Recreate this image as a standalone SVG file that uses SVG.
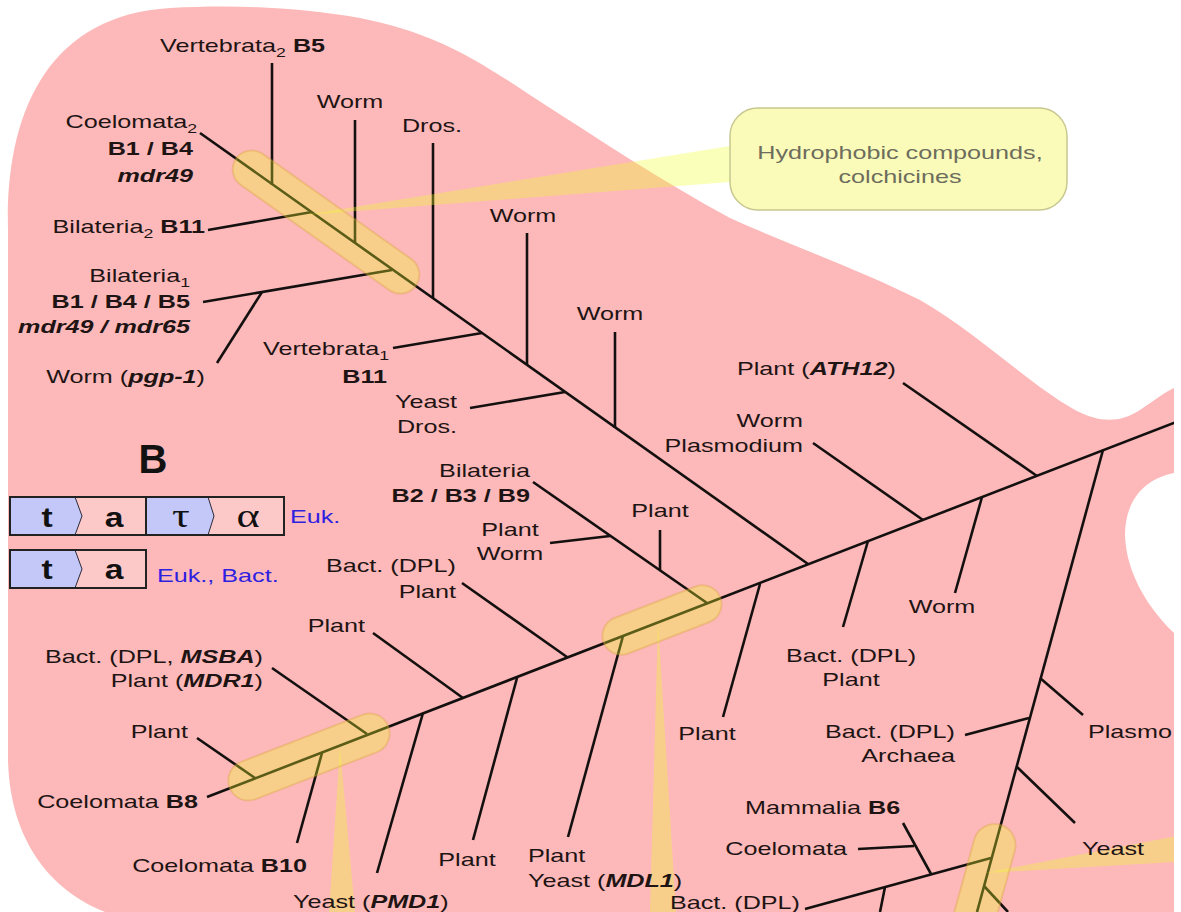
<svg xmlns="http://www.w3.org/2000/svg" width="1181" height="912" viewBox="0 0 1181 912">
<defs>
<clipPath id="clip"><rect x="0" y="0" width="1174" height="912"/></clipPath>
<style>
.lbl{font-family:"Liberation Sans",Arial,Helvetica,sans-serif;font-size:18.5px;fill:#1e1414}
.b{font-weight:bold}
.bi{font-weight:bold;font-style:italic}
.sub{font-size:13px}
#connectors line{stroke:#141010;stroke-width:2.6}
.hl{fill:#f0ff28;fill-opacity:0.32;stroke:#d9a040;stroke-opacity:0.35;stroke-width:2}
.wedge{fill:#f0ff28;fill-opacity:0.32}
.blue{fill:#c4c8f8}
.gl{font-family:"Liberation Sans",Arial,sans-serif;font-weight:bold;font-size:28px;fill:#111}
.gg{font-family:"Liberation Serif","Times New Roman",serif;font-size:34px;fill:#111}
.euk{font-family:"Liberation Sans",Arial,sans-serif;font-size:18.5px;fill:#2f1fe0}
.co{font-family:"Liberation Sans",Arial,sans-serif;font-size:18.5px;fill:#6d6d5d}
</style>
</defs>
<rect width="1181" height="912" fill="#ffffff"/>
<g clip-path="url(#clip)">
<path id="blob" fill="#fdb9b9" d="M 8,230 C 5,110 50,15 170,8 C 240,4 300,8 360,18 C 430,32 470,55 530,95 C 600,140 660,180 730,218 C 790,245 860,270 920,300 C 980,335 1030,385 1075,410 C 1100,423 1120,423 1140,410 C 1155,400 1165,392 1174,388 L 1174,473 C 1140,480 1125,505 1125,535 C 1126,570 1145,605 1174,633 L 1174,912 L 105,912 C 50,890 10,840 8,760 Z"/>

<g id="connectors">
<line x1="200" y1="133" x2="808" y2="564"/>
<line x1="207" y1="797" x2="1176" y2="422"/>
<line x1="1103" y1="450" x2="977" y2="912"/>
<line x1="991" y1="858" x2="805" y2="909"/>
<line x1="272" y1="63" x2="272" y2="185"/>
<line x1="355" y1="120" x2="355" y2="243"/>
<line x1="433" y1="143" x2="433" y2="298"/>
<line x1="208" y1="230" x2="312" y2="212"/>
<line x1="203" y1="302" x2="392" y2="270"/>
<line x1="217" y1="363" x2="262" y2="292"/>
<line x1="393" y1="348" x2="482" y2="333"/>
<line x1="527" y1="233" x2="527" y2="365"/>
<line x1="470" y1="408" x2="565" y2="392"/>
<line x1="615" y1="332" x2="615" y2="428"/>
<line x1="813" y1="443" x2="923" y2="520"/>
<line x1="903" y1="383" x2="1037" y2="476"/>
<line x1="533" y1="482" x2="707" y2="603"/>
<line x1="550" y1="543" x2="610" y2="536"/>
<line x1="660" y1="530" x2="660" y2="570"/>
<line x1="462" y1="583" x2="567" y2="657"/>
<line x1="373" y1="633" x2="463" y2="698"/>
<line x1="272" y1="668" x2="367" y2="734"/>
<line x1="197" y1="738" x2="255" y2="778"/>
<line x1="297" y1="843" x2="322" y2="753"/>
<line x1="377" y1="873" x2="423" y2="713"/>
<line x1="473" y1="840" x2="517" y2="678"/>
<line x1="568" y1="837" x2="623" y2="636"/>
<line x1="723" y1="717" x2="760" y2="584"/>
<line x1="843" y1="627" x2="868" y2="541"/>
<line x1="955" y1="593" x2="982" y2="497"/>
<line x1="1040" y1="678" x2="1083" y2="715"/>
<line x1="965" y1="735" x2="1029" y2="718"/>
<line x1="1017" y1="767" x2="1075" y2="823"/>
<line x1="858" y1="849" x2="914" y2="846"/>
<line x1="903" y1="823" x2="931" y2="874"/>
<line x1="885" y1="887" x2="880" y2="912"/>
<line x1="984" y1="886" x2="1008" y2="912"/>
</g>

<g id="highlights">
<polygon class="wedge" points="305,215 730,146 730,182"/>
<polygon class="wedge" points="340,748 329,912 355,912"/>
<polygon class="wedge" points="658,622 650,912 676,912"/>
<polygon class="wedge" points="985,873 1176,836 1176,862"/>
<rect class="hl" x="216" y="203" width="220" height="38" rx="19" transform="rotate(35.3 326 222)"/>
<rect class="hl" x="224" y="737" width="170" height="40" rx="20" transform="rotate(-21.2 309 757)"/>
<rect class="hl" x="599.5" y="601" width="125" height="38" rx="19" transform="rotate(-21.2 662 620)"/>
<rect class="hl" x="958.4" y="822" width="42" height="170" rx="21" transform="rotate(15.4 979.4 900)"/>
</g>

<g id="callout">
<rect x="730" y="108" width="337" height="102" rx="28" fill="#fbfbb9" stroke="#c8c890" stroke-width="1.5"/>
<text class="co" text-anchor="middle" transform="translate(900,159) scale(1.36 1)">Hydrophobic compounds,</text>
<text class="co" text-anchor="middle" transform="translate(900,183) scale(1.36 1)">colchicines</text>
</g>

<g id="legend">
<text x="153" y="473" text-anchor="middle" style="font-family:'Liberation Sans',Arial,sans-serif;font-weight:bold;font-size:40px;fill:#111">B</text>
<g id="gene-euk">
<rect x="10" y="497" width="274" height="38" fill="#fcc8c8"/>
<polygon class="blue" points="10,497 75,497 82,516 75,535 10,535"/>
<polygon class="blue" points="146,497 208,497 214,516 208,535 146,535"/>
<polyline points="75,497 82,516 75,535" fill="none" stroke="#2a2a3a" stroke-width="1"/>
<polyline points="208,497 214,516 208,535" fill="none" stroke="#2a2a3a" stroke-width="1"/>
<line x1="146" y1="497" x2="146" y2="535" stroke="#222" stroke-width="2"/>
<rect x="10" y="497" width="274" height="38" fill="none" stroke="#222" stroke-width="2"/>
<text class="gl" text-anchor="middle" transform="translate(47,527) scale(1.2 1)">t</text>
<text class="gl" text-anchor="middle" transform="translate(114,527) scale(1.2 1)">a</text>
<text class="gg" text-anchor="middle" transform="translate(181,527) scale(1.3 1)">τ</text>
<text class="gg" text-anchor="middle" transform="translate(248,527) scale(1.3 1)">α</text>
<text class="euk" transform="translate(290,523) scale(1.36 1)">Euk.</text>
</g>
<g id="gene-bact">
<rect x="10" y="550" width="136" height="38" fill="#fcc8c8"/>
<polygon class="blue" points="10,550 75,550 82,569 75,588 10,588"/>
<polyline points="75,550 82,569 75,588" fill="none" stroke="#2a2a3a" stroke-width="1"/>
<rect x="10" y="550" width="136" height="38" fill="none" stroke="#222" stroke-width="2"/>
<text class="gl" text-anchor="middle" transform="translate(47,579) scale(1.2 1)">t</text>
<text class="gl" text-anchor="middle" transform="translate(114,579) scale(1.2 1)">a</text>
<text class="euk" transform="translate(157,582) scale(1.36 1)">Euk., Bact.</text>
</g>
</g>

<g id="n-vertebrata2"><text class="lbl" transform="translate(160,52) scale(1.36 1)">Vertebrata<tspan class="sub" dy="5">2</tspan><tspan class="b" dy="-5"> B5</tspan></text></g>
<g id="n-worm-a"><text class="lbl" text-anchor="middle" transform="translate(350,108) scale(1.36 1)">Worm</text></g>
<g id="n-coelomata2">
<text class="lbl" text-anchor="end" transform="translate(197,128) scale(1.36 1)">Coelomata<tspan class="sub" dy="5">2</tspan></text>
<text class="lbl b" text-anchor="end" transform="translate(193,155) scale(1.36 1)">B1 / B4</text>
<text class="lbl bi" text-anchor="end" transform="translate(193,182) scale(1.36 1)">mdr49</text>
</g>
<g id="n-bilateria2"><text class="lbl" text-anchor="end" transform="translate(205,233) scale(1.36 1)">Bilateria<tspan class="sub" dy="5">2</tspan><tspan class="b" dy="-5"> B11</tspan></text></g>
<g id="n-bilateria1">
<text class="lbl" text-anchor="end" transform="translate(190,282) scale(1.36 1)">Bilateria<tspan class="sub" dy="5">1</tspan></text>
<text class="lbl b" text-anchor="end" transform="translate(190,308) scale(1.36 1)">B1 / B4 / B5</text>
<text class="lbl bi" text-anchor="end" transform="translate(190,333) scale(1.36 1)">mdr49 / mdr65</text>
</g>
<g id="n-worm-pgp1"><text class="lbl" text-anchor="end" transform="translate(205,383) scale(1.36 1)">Worm (<tspan class="bi">pgp-1</tspan>)</text></g>
<g id="n-dros-a"><text class="lbl" text-anchor="middle" transform="translate(432,132) scale(1.36 1)">Dros.</text></g>
<g id="n-worm-b"><text class="lbl" text-anchor="middle" transform="translate(523,222) scale(1.36 1)">Worm</text></g>
<g id="n-vertebrata1">
<text class="lbl" text-anchor="end" transform="translate(389,355) scale(1.36 1)">Vertebrata<tspan class="sub" dy="5">1</tspan></text>
<text class="lbl b" text-anchor="end" transform="translate(387,383) scale(1.36 1)">B11</text>
</g>
<g id="n-yeast-dros">
<text class="lbl" text-anchor="end" transform="translate(457,408) scale(1.36 1)">Yeast</text>
<text class="lbl" text-anchor="end" transform="translate(457,433) scale(1.36 1)">Dros.</text>
</g>
<g id="n-worm-c"><text class="lbl" text-anchor="middle" transform="translate(610,320) scale(1.36 1)">Worm</text></g>
<g id="n-plant-ath12"><text class="lbl" transform="translate(737,375) scale(1.36 1)">Plant (<tspan class="bi">ATH12</tspan>)</text></g>
<g id="n-worm-plasmodium">
<text class="lbl" text-anchor="end" transform="translate(803,427) scale(1.36 1)">Worm</text>
<text class="lbl" text-anchor="end" transform="translate(803,452) scale(1.36 1)">Plasmodium</text>
</g>
<g id="n-bilateria-b2">
<text class="lbl" text-anchor="end" transform="translate(530,477) scale(1.36 1)">Bilateria</text>
<text class="lbl b" text-anchor="end" transform="translate(530,502) scale(1.36 1)">B2 / B3 / B9</text>
</g>
<g id="n-plant-worm">
<text class="lbl" text-anchor="middle" transform="translate(510,536) scale(1.36 1)">Plant</text>
<text class="lbl" text-anchor="middle" transform="translate(510,560) scale(1.36 1)">Worm</text>
</g>
<g id="n-plant-a"><text class="lbl" text-anchor="middle" transform="translate(660,517) scale(1.36 1)">Plant</text></g>
<g id="n-bact-plant-a">
<text class="lbl" text-anchor="end" transform="translate(456,572) scale(1.36 1)">Bact. (DPL)</text>
<text class="lbl" text-anchor="end" transform="translate(456,598) scale(1.36 1)">Plant</text>
</g>
<g id="n-plant-b"><text class="lbl" text-anchor="end" transform="translate(365,632) scale(1.36 1)">Plant</text></g>
<g id="n-msba-mdr1">
<text class="lbl" text-anchor="end" transform="translate(263,663) scale(1.36 1)">Bact. (DPL, <tspan class="bi">MSBA</tspan>)</text>
<text class="lbl" text-anchor="end" transform="translate(263,687) scale(1.36 1)">Plant (<tspan class="bi">MDR1</tspan>)</text>
</g>
<g id="n-plant-c"><text class="lbl" text-anchor="end" transform="translate(188,738) scale(1.36 1)">Plant</text></g>
<g id="n-coelomata-b8"><text class="lbl" text-anchor="end" transform="translate(198,808) scale(1.36 1)">Coelomata <tspan class="b">B8</tspan></text></g>
<g id="n-coelomata-b10"><text class="lbl" text-anchor="end" transform="translate(307,872) scale(1.36 1)">Coelomata <tspan class="b">B10</tspan></text></g>
<g id="n-yeast-pmd1"><text class="lbl" transform="translate(293,908) scale(1.36 1)">Yeast (<tspan class="bi">PMD1</tspan>)</text></g>
<g id="n-plant-d"><text class="lbl" text-anchor="middle" transform="translate(467,866) scale(1.36 1)">Plant</text></g>
<g id="n-plant-yeast-mdl1">
<text class="lbl" transform="translate(528,862) scale(1.36 1)">Plant</text>
<text class="lbl" transform="translate(528,887) scale(1.36 1)">Yeast (<tspan class="bi">MDL1</tspan>)</text>
</g>
<g id="n-plant-e"><text class="lbl" text-anchor="middle" transform="translate(707,740) scale(1.36 1)">Plant</text></g>
<g id="n-bact-plant-b">
<text class="lbl" text-anchor="middle" transform="translate(851,662) scale(1.36 1)">Bact. (DPL)</text>
<text class="lbl" text-anchor="middle" transform="translate(851,686) scale(1.36 1)">Plant</text>
</g>
<g id="n-worm-d"><text class="lbl" text-anchor="middle" transform="translate(942,613) scale(1.36 1)">Worm</text></g>
<g id="n-bact-archaea">
<text class="lbl" text-anchor="end" transform="translate(955,738) scale(1.36 1)">Bact. (DPL)</text>
<text class="lbl" text-anchor="end" transform="translate(955,762) scale(1.36 1)">Archaea</text>
</g>
<g id="n-plasmo"><text class="lbl" transform="translate(1088,738) scale(1.36 1)">Plasmo</text></g>
<g id="n-mammalia-b6"><text class="lbl" transform="translate(745,814) scale(1.36 1)">Mammalia <tspan class="b">B6</tspan></text></g>
<g id="n-coelomata"><text class="lbl" text-anchor="end" transform="translate(847,855) scale(1.36 1)">Coelomata</text></g>
<g id="n-yeast"><text class="lbl" transform="translate(1082,855) scale(1.36 1)">Yeast</text></g>
<g id="n-bact-bottom"><text class="lbl" text-anchor="end" transform="translate(800,909) scale(1.36 1)">Bact. (DPL)</text></g>
</g>
</svg>
